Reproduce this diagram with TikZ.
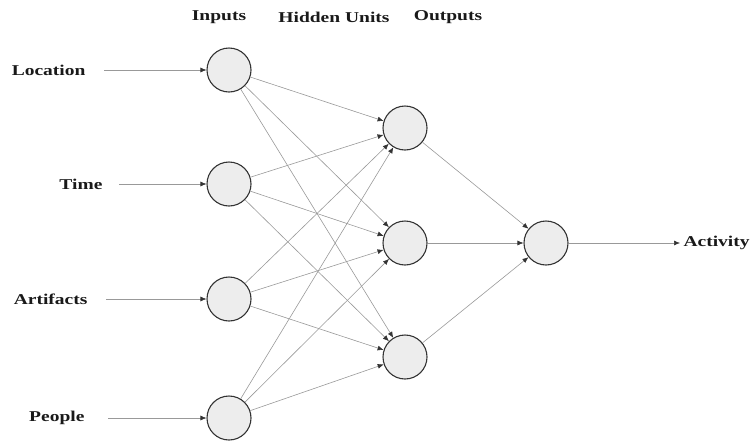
\documentclass[tikz,border=0pt]{standalone}
\usepackage{fontspec}
\setmainfont{Liberation Serif}[FakeStretch=1.3]
\usetikzlibrary{arrows.meta}
\begin{document}
\begin{tikzpicture}[x=1pt,y=-1pt,
  unit/.style={circle,draw=black!80,line width=1.1pt,fill=black!7,minimum size=44pt,inner sep=0pt},
  lbl/.style={font=\bfseries\fontsize{15}{17}\selectfont,text=black!90},
  conn/.style={draw=black!40,line width=0.6pt,-{Latex[length=6pt,width=5pt,color=black!80,fill=black!80]}}]
\useasboundingbox (0,0) rectangle (751,440);
\node[lbl] (hin) at (219,17) {Inputs};
\node[lbl] (hhid) at (334,17) {Hidden Units};
\node[lbl] (hout) at (448,17) {Outputs};
\node[unit] (i1) at (229,70) {};
\node[unit] (i2) at (229,184) {};
\node[unit] (i3) at (229,299) {};
\node[unit] (i4) at (229,418) {};
\node[unit] (h1) at (405,128) {};
\node[unit] (h2) at (405,243) {};
\node[unit] (h3) at (405,357) {};
\node[unit] (o1) at (546,243) {};
\node[lbl,anchor=east] (l1) at (89,70) {Location};
\node[lbl,anchor=east] (l2) at (106,184) {Time};
\node[lbl,anchor=east] (l3) at (91,299) {Artifacts};
\node[lbl,anchor=east] (l4) at (88,418) {People};
\node[lbl,anchor=west] (act) at (680,243) {Activity};
\coordinate (s1) at (104,70);
\coordinate (s2) at (119,184);
\coordinate (s3) at (106,299);
\coordinate (s4) at (108,418);
\draw[conn] (s1) -- (i1);
\draw[conn] (s2) -- (i2);
\draw[conn] (s3) -- (i3);
\draw[conn] (s4) -- (i4);
\foreach \i in {i1,i2,i3,i4}{
  \foreach \h in {h1,h2,h3}{
    \draw[conn] (\i) -- (\h);
  }
}
\foreach \h in {h1,h2,h3}{
  \draw[conn] (\h) -- (o1);
}
\draw[conn] (o1) -- (act);
\end{tikzpicture}
\end{document}
